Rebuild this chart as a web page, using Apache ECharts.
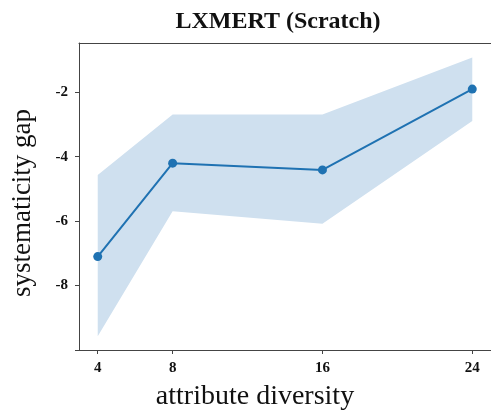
<!DOCTYPE html>
<html>
<head>
<meta charset="utf-8">
<script src="https://cdn.jsdelivr.net/npm/echarts@6/dist/echarts.min.js"></script>
<style>html,body{margin:0;padding:0;background:#fff}#c{width:491px;height:412px}</style>
</head>
<body>
<div id="c"></div>
<script>
const titleText = 'LXMERT (Scratch)';
const xName = 'attribute diversity';
const yName = 'systematicity gap';
const xTicks = [4, 8, 16, 24];
const yTicks = [-10, -8, -6, -4, -2];
const yLabels = [-8, -6, -4, -2];
const diversity = [4, 8, 16, 24];
const meanGap = [-7.1, -4.2, -4.41, -1.9];
const lowerGap = [-9.57, -5.69, -6.08, -2.89];
const upperGap = [-4.57, -2.69, -2.69, -0.92];

const serif = '"Liberation Serif", "DejaVu Serif", serif';
const axisColor = '#444';
const lineColor = '#1f72b2';
const bandColor = '#cfe0ef';

const chart = echarts.init(document.getElementById('c'), null, {renderer: 'canvas'});
chart.setOption({
  animation: false,
  grid: {left: 79, top: 43, width: 414, height: 307, show: false},
  xAxis: [{
    type: 'value', min: 3, max: 25,
    splitLine: {show: false},
    axisLine: {show: true, lineStyle: {color: axisColor, width: 1}},
    axisTick: {show: true, length: 4, lineStyle: {color: axisColor}, customValues: xTicks},
    axisLabel: {customValues: xTicks, margin: 11, color: '#111', fontFamily: serif, fontWeight: 'bold', fontSize: 15}
  }, {
    type: 'value', position: 'top', min: 3, max: 25,
    splitLine: {show: false},
    axisLine: {show: true, lineStyle: {color: axisColor, width: 1}},
    axisTick: {show: false},
    axisLabel: {show: false}
  }],
  yAxis: {
    type: 'value', min: -10, max: -0.47, interval: 2,
    splitLine: {show: false},
    axisLine: {show: true, lineStyle: {color: axisColor, width: 1}},
    axisTick: {show: true, length: 4, lineStyle: {color: axisColor}, customValues: yTicks},
    axisLabel: {customValues: yLabels, margin: 11, color: '#111', fontFamily: serif, fontWeight: 'bold', fontSize: 15}
  },
  series: [
    {
      type: 'custom', silent: true, z: 1,
      data: diversity.map((x, i) => [x, lowerGap[i], upperGap[i]]),
      encode: {x: 0, y: [1, 2]},
      renderItem: function (params, api) {
        if (params.dataIndex !== 0) return null;
        const top = diversity.map((x, i) => api.coord([x, upperGap[i]]));
        const bot = diversity.map((x, i) => api.coord([x, lowerGap[i]])).reverse();
        return {
          type: 'polygon',
          shape: {points: top.concat(bot)},
          style: {fill: bandColor}
        };
      }
    },
    {
      type: 'line', symbol: 'circle', symbolSize: 9,
      lineStyle: {color: lineColor, width: 2},
      itemStyle: {color: lineColor},
      data: diversity.map((x, i) => [x, meanGap[i]]),
      z: 3
    }
  ],
  graphic: [
    {type: 'text', x: 278, y: 22, style: {text: titleText, font: 'bold 24px ' + serif, fill: '#111', textAlign: 'center', textVerticalAlign: 'middle'}},
    {type: 'text', x: 255, y: 397, style: {text: xName, font: '28px ' + serif, fill: '#111', textAlign: 'center', textVerticalAlign: 'middle'}},
    {type: 'text', x: 23, y: 203, rotation: Math.PI / 2, style: {text: yName, font: '27px ' + serif, fill: '#111', textAlign: 'center', textVerticalAlign: 'middle'}}
  ]
});
</script>
</body>
</html>
